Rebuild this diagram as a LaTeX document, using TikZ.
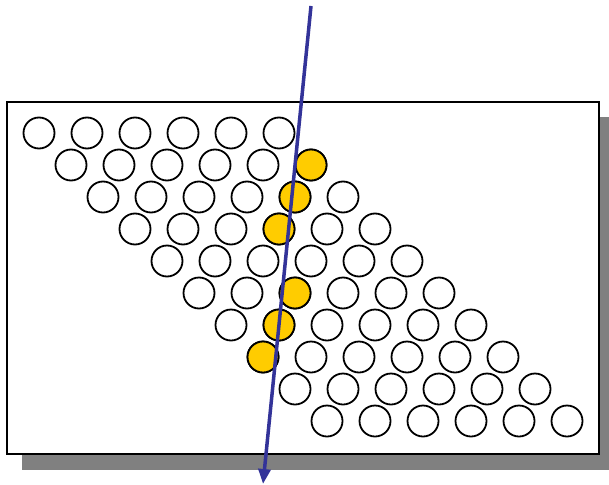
\documentclass[tikz,border=0pt]{standalone}
\usepackage{tikz}
\usetikzlibrary{arrows, arrows.meta}
\definecolor{gold}{RGB}{255,204,0}
\definecolor{raycol}{RGB}{51,51,153}
\definecolor{shadowgray}{RGB}{128,128,128}
\tikzset{ball/.style={circle, draw, line width=1.8pt, fill=white, minimum size=31pt, inner sep=0pt},
  ray/.style={-{Triangle[length=15pt, width=12pt]}, line width=3.5pt, draw=raycol, fill=raycol}}
\begin{document}
\begin{tikzpicture}[x=1pt, y=-1pt]
    \useasboundingbox (0,0) rectangle (609,484);
    \fill[shadowgray] (22,117) rectangle (612,470);
    \draw[line width=2pt, fill=white] (7,102) rectangle (599,454);
    \foreach \r in {1,...,10}
      \foreach \c in {1,...,6}
        \node[ball] (b\r-\c) at ({39+32*(\r-1)+48*(\c-1)},{133+32*(\r-1)}) {};
    \foreach \r/\c in {2/6, 3/5, 4/4, 6/3, 7/2, 8/1}
      \node[ball, fill=gold] at (b\r-\c) {};
    \coordinate (top) at (311,6);
    \coordinate (bot) at (263,484);
    \draw[ray] (top) -- (bot);
\end{tikzpicture}
\end{document}
